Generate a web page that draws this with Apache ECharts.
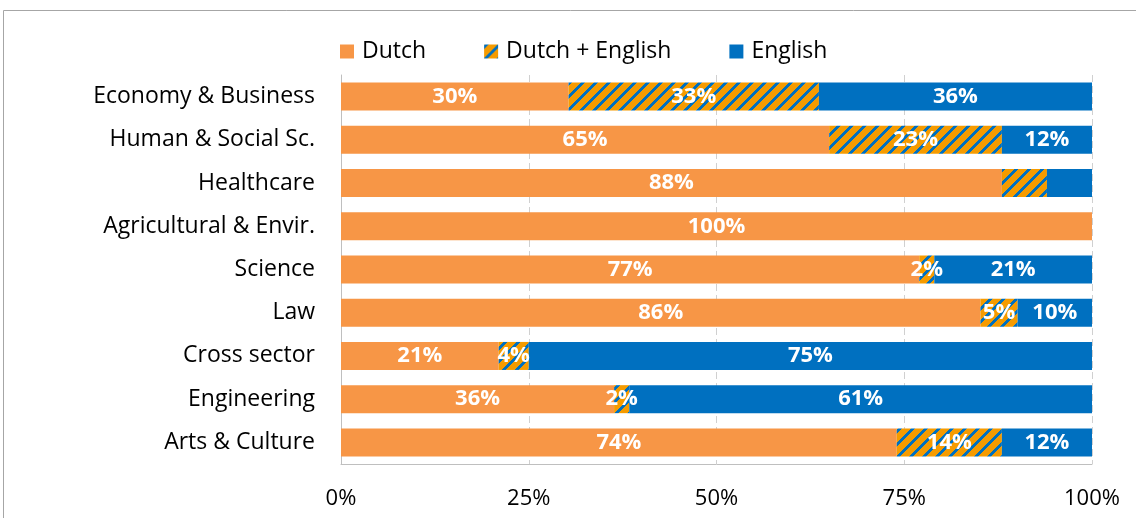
<!DOCTYPE html>
<html>
<head>
<meta charset="utf-8">
<script src="https://cdn.jsdelivr.net/npm/echarts@6/dist/echarts.min.js"></script>
<style>
  html, body { margin: 0; padding: 0; background: #fff; }
  #chart { width: 1136px; height: 518px; }
</style>
</head>
<body>
<div id="chart"></div>
<script>
var categories = ['Economy & Business', 'Human & Social Sc.', 'Healthcare', 'Agricultural & Envir.',
  'Science', 'Law', 'Cross sector', 'Engineering', 'Arts & Culture'];
var dutch   = [30, 65, 88, 100, 77, 86, 21, 36, 74];
var both    = [33, 23, 6, 0, 2, 5, 4, 2, 14];
var english = [36, 12, 6, 0, 21, 10, 75, 61, 12];
// labels Excel hid on the Healthcare row
var hideLabel = { both: [2], english: [2] };
var xTicks = ['0%', '25%', '50%', '75%', '100%'];

// diagonal hatch for "Dutch + English"
function makeHatch() {
  var s = 13, c = document.createElement('canvas');
  c.width = s; c.height = s;
  var ctx = c.getContext('2d');
  for (var y = 0; y < s; y++) {
    for (var x = 0; x < s; x++) {
      ctx.fillStyle = ((x + y) % s) < 4 ? '#0070C0' : '#F59B00';
      ctx.fillRect(x, y, 1, 1);
    }
  }
  return c;
}
var hatch = { image: makeHatch(), repeat: 'repeat' };

// 100% stacked: normalise each row, keep the printed value as label
function build(vals, key) {
  return vals.map(function (v, i) {
    var tot = dutch[i] + both[i] + english[i];
    var d = { value: v / tot * 100, raw: v };
    if (v === 0 || (hideLabel[key] && hideLabel[key].indexOf(i) >= 0)) d.label = { show: false };
    return d;
  });
}

var labelCfg = {
  show: true,
  position: 'inside',
  color: '#fff',
  fontWeight: 'bold',
  fontSize: 22,
  fontFamily: 'Open Sans',
  formatter: function (p) { return p.data.raw + '%'; }
};

var myChart = echarts.init(document.getElementById('chart'));
var option = {
  backgroundColor: '#fff',
  animation: false,
  textStyle: { fontFamily: 'Open Sans' },
  graphic: [{
    type: 'rect',
    shape: { x: 3.5, y: 10.5, width: 1200, height: 600 },
    style: { fill: 'none', stroke: '#A6A6A6', lineWidth: 1 },
    silent: true
  }],
  legend: {
    top: 35,
    left: 335,
    itemWidth: 14,
    itemHeight: 14,
    itemGap: 58,
    icon: 'rect',
    textStyle: { fontSize: 23, color: '#000', fontFamily: 'Open Sans', padding: [0, 0, 0, 3] },
    data: ['Dutch', 'Dutch + English', 'English']
  },
  grid: { left: 341, right: 44, top: 75, bottom: 54 },
  xAxis: {
    type: 'value',
    min: 0,
    max: 100,
    interval: 25,
    axisLine: { show: true, lineStyle: { color: '#BFBFBF' } },
    axisTick: { show: false },
    axisLabel: {
      margin: 24,
      fontSize: 22,
      color: '#000',
      formatter: function (v) { return xTicks[v / 25]; }
    },
    splitLine: { show: true, lineStyle: { color: '#D0D0D0', type: [7, 4] } }
  },
  yAxis: {
    type: 'category',
    inverse: true,
    data: categories,
    axisLine: { show: true, lineStyle: { color: '#BFBFBF' } },
    axisTick: { show: false },
    axisLabel: { margin: 26, fontSize: 23, color: '#000' }
  },
  series: [
    { name: 'Dutch', type: 'bar', stack: 'all', barWidth: 28,
      itemStyle: { color: '#F79646' }, label: labelCfg, data: build(dutch, 'dutch') },
    { name: 'Dutch + English', type: 'bar', stack: 'all', barWidth: 28,
      itemStyle: { color: hatch }, label: labelCfg, data: build(both, 'both') },
    { name: 'English', type: 'bar', stack: 'all', barWidth: 28,
      itemStyle: { color: '#0070C0' }, label: labelCfg, data: build(english, 'english') }
  ]
};
option && myChart.setOption(option);
</script>
</body>
</html>
